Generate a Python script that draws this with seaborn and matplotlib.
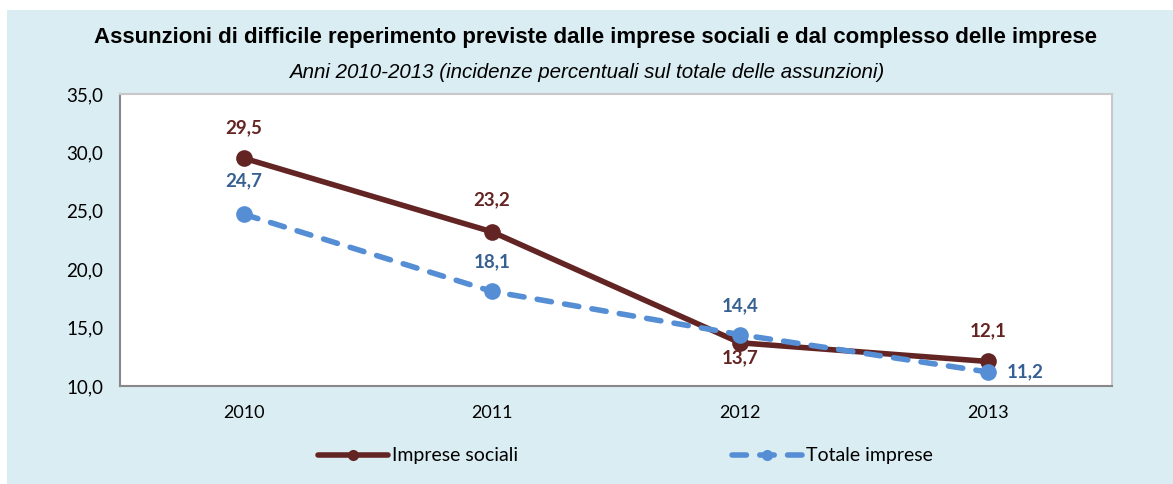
import seaborn as sns
import pandas as pd
import matplotlib.pyplot as plt
from matplotlib.patches import Rectangle
from matplotlib.lines import Line2D

anni = ['2010', '2011', '2012', '2013']
imprese_sociali = [29.5, 23.2, 13.7, 12.1]
totale_imprese = [24.7, 18.1, 14.4, 11.2]
serie = ['Imprese sociali', 'Totale imprese']
y_ticks = [10, 15, 20, 25, 30, 35]

rosso = '#632523'
blu = '#558ED5'
blu_lbl = '#376092'
sfondo = '#DAEDF3'

df = pd.DataFrame({
    'anno': anni * 2,
    'valore': imprese_sociali + totale_imprese,
    'serie': [serie[0]] * 4 + [serie[1]] * 4,
})
df['pos'] = [0, 1, 2, 3] * 2

sns.set_style('white')
plt.rcParams['font.family'] = ['Lato', 'DejaVu Sans']
plt.rcParams['text.color'] = 'black'
plt.rcParams['xtick.color'] = 'black'
plt.rcParams['ytick.color'] = 'black'

fig = plt.figure(figsize=(11.73, 4.84), dpi=100)
fig.patch.set_facecolor('white')
fig.patches.append(Rectangle((7 / 1173, 0), 1 - 7 / 1173, 1 - 10 / 484,
                             transform=fig.transFigure, facecolor=sfondo,
                             edgecolor='none', zorder=-10))

ax = fig.add_axes([120 / 1173, 1 - 386 / 484, 992 / 1173, 292 / 484])
ax.set_facecolor('white')

sns.lineplot(data=df, x='pos', y='valore', hue='serie', style='serie',
             palette={serie[0]: rosso, serie[1]: blu},
             dashes={serie[0]: '', serie[1]: (2.6, 2.4)},
             markers={serie[0]: 'o', serie[1]: 'o'}, markersize=12,
             markeredgewidth=0, linewidth=4, legend=False, ax=ax)
for ln in ax.lines:
    ln.set_dash_capstyle('round')
    ln.set_solid_capstyle('round')

ax.set_xlim(-0.5, 3.5)
ax.set_ylim(10, 35)
ax.set_yticks(y_ticks)
ax.set_yticklabels([f'{v:.1f}'.replace('.', ',') for v in y_ticks], fontsize=13.5)
ax.set_xticks([0, 1, 2, 3])
ax.set_xticklabels(anni, fontsize=13)
ax.set_xticks([-0.5, 0.5, 1.5, 2.5, 3.5], minor=True)
ax.tick_params(axis='x', which='major', length=0, pad=14)
ax.tick_params(axis='x', which='minor', length=6, color='#888888', direction='out')
ax.tick_params(axis='y', length=6, color='#888888', direction='out', pad=6)
ax.set_xlabel('')
ax.set_ylabel('')
for s in ['left', 'bottom']:
    ax.spines[s].set_color('#888888')
    ax.spines[s].set_linewidth(1.5)
for s in ['top', 'right']:
    ax.spines[s].set_color('#c8c8c8')
    ax.spines[s].set_linewidth(1.5)

# etichette dei valori (offset in punti)
off_soc = [(0, 22), (0, 23), (0, -11), (0, 22)]
off_tot = [(0, 24), (0, 21), (0, 21), (27, 0)]
for i, v in enumerate(imprese_sociali):
    ax.annotate(f'{v:.1f}'.replace('.', ','), (i, v), xytext=off_soc[i],
                textcoords='offset points', ha='center', va='center',
                fontsize=13.5, fontweight='bold', color=rosso)
for i, v in enumerate(totale_imprese):
    ax.annotate(f'{v:.1f}'.replace('.', ','), (i, v), xytext=off_tot[i],
                textcoords='offset points', ha='center', va='center',
                fontsize=13.5, fontweight='bold', color=blu_lbl)

fig.text(0.508, 1 - 37 / 484, 'Assunzioni di difficile reperimento previste dalle imprese sociali e dal complesso delle imprese',
         ha='center', va='center', fontsize=16, fontweight='bold',
         family=['Liberation Sans', 'DejaVu Sans'])
fig.text(0.5, 1 - 72 / 484, 'Anni 2010-2013 (incidenze percentuali sul totale delle assunzioni)',
         ha='center', va='center', fontsize=14.8, style='italic',
         family=['Liberation Sans', 'DejaVu Sans'])

handles = [
    Line2D([], [], color=rosso, lw=4, marker='o', markersize=8, markeredgewidth=0,
           solid_capstyle='round'),
    Line2D([], [], color=blu, lw=4, ls=(0, (2.6, 2.4)), marker='o', markersize=8,
           markeredgewidth=0, dash_capstyle='round'),
]
fig.legend(handles, serie, loc='center', bbox_to_anchor=(0.533, 1 - 456 / 484),
           ncol=2, frameon=False, handlelength=3.6,
           handletextpad=0.2, columnspacing=11.0,
           prop={'family': ['Lato', 'DejaVu Sans'], 'size': 14})

fig.savefig('out.png', dpi=100, facecolor=fig.get_facecolor())
